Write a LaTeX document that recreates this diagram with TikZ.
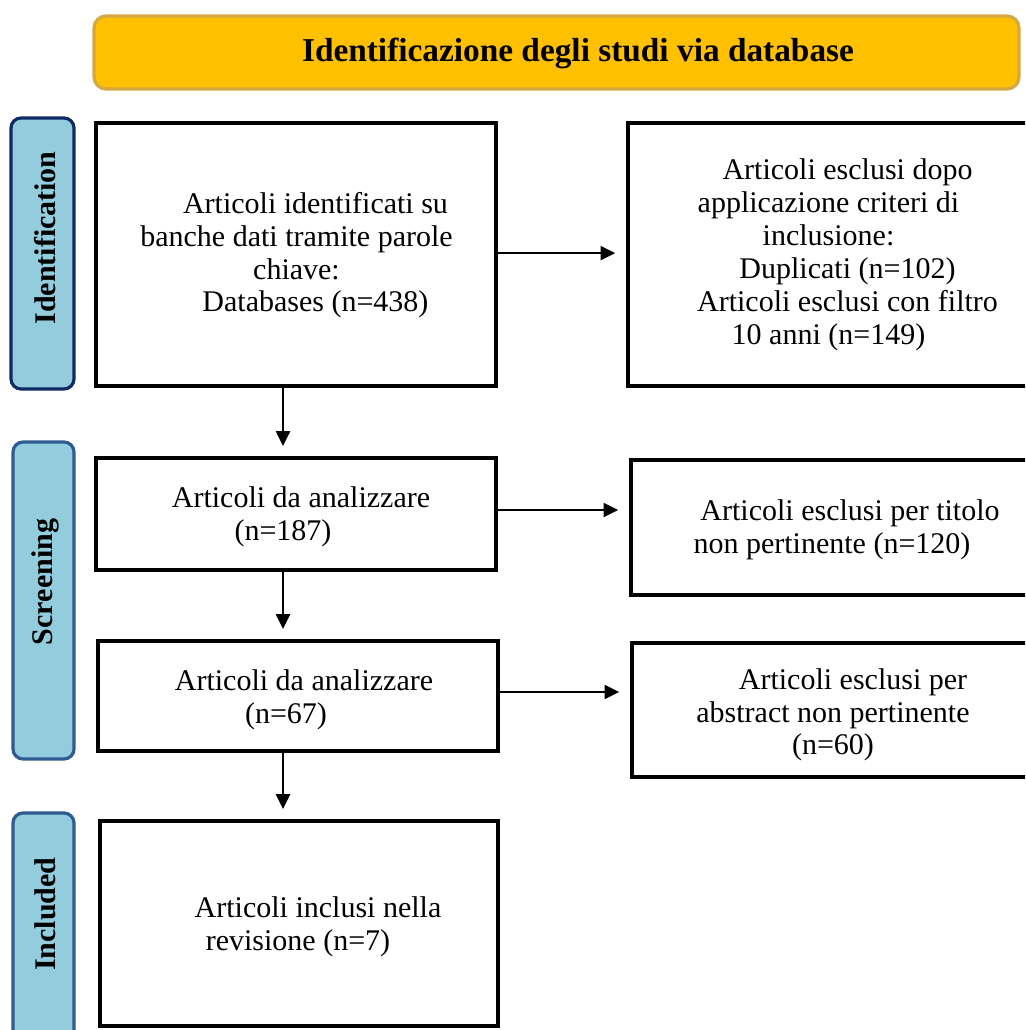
\documentclass[tikz,border=0pt]{standalone}
\usepackage{fontspec}
\setmainfont{Liberation Serif}
\usetikzlibrary{arrows.meta,calc}
\definecolor{bannerfill}{HTML}{FFC000}
\definecolor{bannerline}{HTML}{D4A843}
\definecolor{sidefill}{HTML}{93CDDD}
\definecolor{sideline}{HTML}{2F5B93}
\definecolor{sidelinedark}{HTML}{102A63}
\newcommand{\padr}[1]{\rule{#1}{0pt}}
\begin{document}
\begin{tikzpicture}[x=0.75pt,y=-0.75pt,
  box/.style={draw=black,line width=3.2pt,inner sep=0pt,fill=white},
  txt/.style={align=center,inner sep=0pt,font=\fontsize{22.5}{24.5}\selectfont},
  side/.style={draw=sideline,fill=sidefill,line width=2.4pt,rounded corners=7.5pt,inner sep=0pt},
  sidetxt/.style={rotate=90,inner sep=0pt,font=\fontsize{22.5}{24}\selectfont\bfseries},
  banner/.style={draw=bannerline,fill=bannerfill,line width=2.4pt,rounded corners=9pt,inner sep=0pt},
  arr/.style={line width=1.5pt,-{Triangle[length=11pt,width=10.5pt]}}]
\useasboundingbox (0,0) rectangle (1025,1030);
\clip (0,0) rectangle (1025,1030);
\fill[white] (0,0) rectangle (1025,1030);

% banner
\node[banner,minimum width={925*0.75pt},minimum height={73*0.75pt}] (ban) at (556.5,52.5) {};
\node[inner sep=0pt,font=\fontsize{25}{30}\selectfont\bfseries] (bantxt) at (578,53) {Identificazione degli studi via database};

% side labels
\node[side,draw=sidelinedark,minimum width={63*0.75pt},minimum height={271*0.75pt}] (sid) at (42.5,253.5) {};
\node[side,minimum width={61*0.75pt},minimum height={317*0.75pt}] (sscr) at (43.5,600.5) {};
\node[side,minimum width={61*0.75pt},minimum height={236*0.75pt}] (sinc) at (43.5,931) {};
\node[sidetxt] (sidt) at (45,238) {Identification};
\node[sidetxt] (sscrt) at (45,582) {Screening};
\node[sidetxt] (sinct) at (45,914) {Included};

% left boxes
\node[box,minimum width={400*0.75pt},minimum height={263*0.75pt}] (b1) at (296,254.5) {};
\node[box,minimum width={400*0.75pt},minimum height={112*0.75pt}] (b2) at (296,514) {};
\node[box,minimum width={400*0.75pt},minimum height={110*0.75pt}] (b3) at (298,696) {};
\node[box,minimum width={398*0.75pt},minimum height={205*0.75pt}] (b4) at (299,923.5) {};

% right boxes
\node[box,minimum width={437*0.75pt},minimum height={263*0.75pt}] (r1) at (846.5,254.5) {};
\node[box,minimum width={436*0.75pt},minimum height={135*0.75pt}] (r2) at (849,527.5) {};
\node[box,minimum width={440*0.75pt},minimum height={134*0.75pt}] (r3) at (852,710) {};

% texts
\node[txt] (t1) at (296.5,255.5) {\padr{28.5pt}Articoli identificati su\\banche dati tramite parole\\chiave:\\\padr{28.5pt}Databases (n=438)};
\node[txt] (t2) at (301,517) {Articoli da analizzare\\(n=187)\padr{27pt}};
\node[txt] (t3) at (304,700) {Articoli da analizzare\\(n=67)\padr{27pt}};
\node[txt] (t4) at (318,927) {Articoli inclusi nella\\revisione (n=7)\padr{30pt}};
\node[txt,font=\fontsize{22.5}{24.75}\selectfont] (tr1) at (847.5,255) {Articoli esclusi dopo\\applicazione criteri di\padr{28.5pt}\\inclusione:\padr{28.5pt}\\Duplicati (n=102)\\Articoli esclusi con filtro\\10 anni (n=149)\padr{28.5pt}};
\node[txt] (tr2) at (850,530) {Articoli esclusi per titolo\\non pertinente (n=120)\padr{27pt}};
\node[txt] (tr3) at (833,715) {\padr{30pt}Articoli esclusi per\\abstract non pertinente\\(n=60)};

% arrows
\coordinate (ax) at (283,0);
\draw[arr,shorten >=7.5pt] (b1.south -| ax) -- (b2.north -| ax);
\draw[arr,shorten >=7.5pt] (b2.south -| ax) -- (b3.north -| ax);
\draw[arr,shorten >=7.5pt] (b3.south -| ax) -- (b4.north -| ax);
\draw[arr,shorten >=8pt] ([yshift=1pt]b1.east) -- ([yshift=1pt]b1.east -| r1.west);
\draw[arr,shorten >=8pt] ([yshift=3pt]b2.east) -- ([yshift=3pt]b2.east -| r2.west);
\draw[arr,shorten >=8pt] ([yshift=3pt]b3.east) -- ([yshift=3pt]b3.east -| r3.west);
\end{tikzpicture}
\end{document}
